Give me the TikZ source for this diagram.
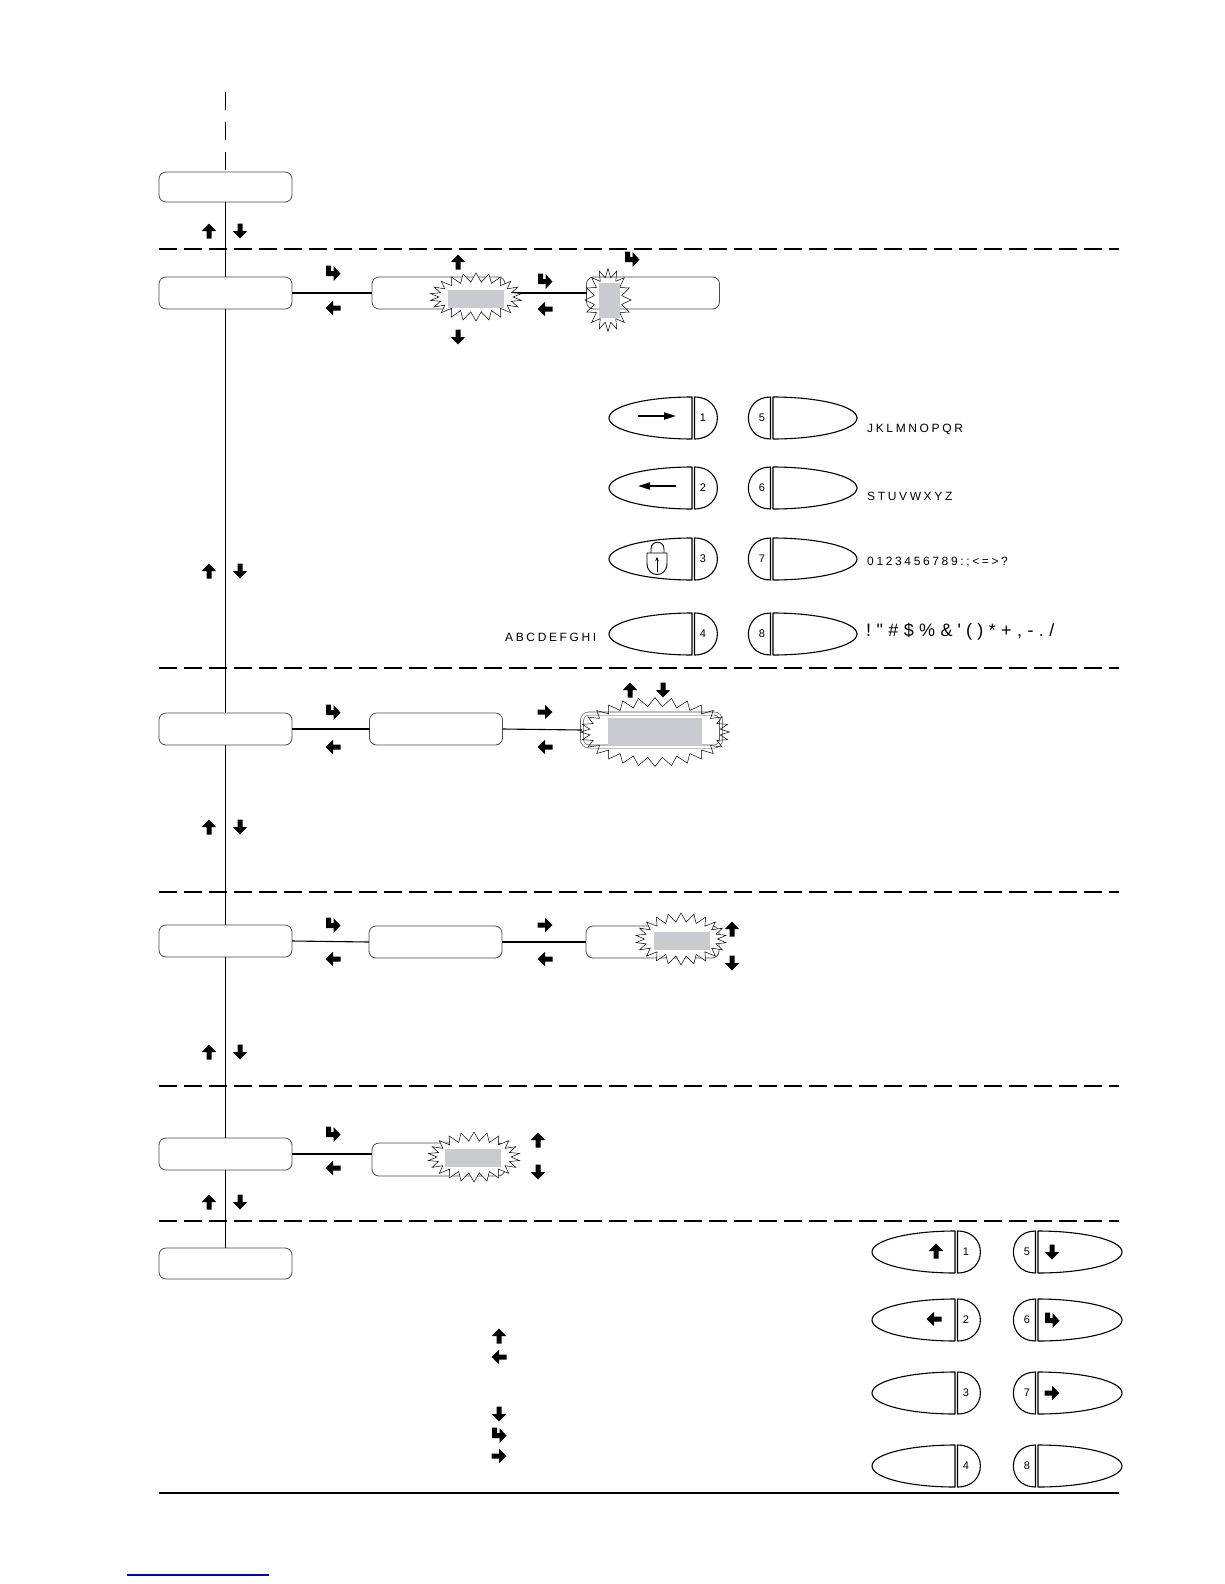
\documentclass[tikz,border=0pt]{standalone}
\usepackage{fontspec}
\usetikzlibrary{shapes.symbols,arrows.meta}
\newfontfamily\labfont{Liberation Sans}[LetterSpace=22]
\newfontfamily\bigfont{Liberation Sans}[LetterSpace=30]
\newfontfamily\numfont{Liberation Sans}
\definecolor{panelgray}{RGB}{200,204,208}

\newcommand\lkey[4]{%
 \begin{scope}[shift={(#1,#2)}]
 \draw[keyline] (0,-21) .. controls (-45,-21) and (-83,-12) .. (-83,0) .. controls (-83,12) and (-45,21) .. (0,21) -- cycle;
 \draw[keyline] (2.5,-21) .. controls (33,-21) and (33,21) .. (2.5,21) -- cycle;
 \node[keynum] (#4) at (11,0) {#3};
 \end{scope}}
\newcommand\rkey[4]{%
 \begin{scope}[shift={(#1,#2)}]
 \draw[keyline] (0,-21) .. controls (45,-21) and (84,-12) .. (84,0) .. controls (84,12) and (45,21) .. (0,21) -- cycle;
 \draw[keyline] (-2.5,-21) .. controls (-32,-21) and (-32,21) .. (-2.5,21) -- cycle;
 \node[keynum] (#4) at (-11,0) {#3};
 \end{scope}}

\begin{document}
\begin{tikzpicture}[x=1pt,y=-1pt,
 box/.style={draw=black!70, line width=0.8, rounded corners=7, minimum width=133, minimum height=32, inner sep=0, outer sep=0},
 conn/.style={line width=1.1},
 sep/.style={line width=1.3, dash pattern=on 18 off 7},
 burst/.style={starburst, random starburst=0, draw, line width=0.5, inner sep=0pt, starburst point height=9pt},
 grayr/.style={fill=panelgray, inner sep=0, minimum width=56, minimum height=18},
 keyline/.style={line width=1.1, line join=round},
 keynum/.style={font=\numfont\fontsize{11}{13}\selectfont, inner sep=0},
 lab/.style={font=\labfont\fontsize{12}{14}\selectfont, inner sep=0},
 labbig/.style={font=\bigfont\fontsize{18}{20}\selectfont, inner sep=0},
 arrU/.pic={\fill (0,-7.5) -- (7.2,0) -- (2.5,0) -- (2.5,7.5) -- (-2.5,7.5) -- (-2.5,0) -- (-7.2,0) -- cycle;},
 arrD/.pic={\fill (0,7.5) -- (7.2,0) -- (2.5,0) -- (2.5,-7.5) -- (-2.5,-7.5) -- (-2.5,0) -- (-7.2,0) -- cycle;},
 arrL/.pic={\fill (-7.5,0) -- (0,-7.2) -- (0,-2.5) -- (7.5,-2.5) -- (7.5,2.5) -- (0,2.5) -- (0,7.2) -- cycle;},
 arrR/.pic={\fill (7.5,0) -- (0,-7.2) -- (0,-2.5) -- (-7.5,-2.5) -- (-7.5,2.5) -- (0,2.5) -- (0,7.2) -- cycle;},
 arrE/.pic={\fill (-6.8,-7.5) -- (-2,-7.5) -- (-2,-1.8) -- (0.6,-1.8) -- (0.6,-6.8) -- (7.5,0.6) -- (0.6,8) -- (0.6,3) -- (-6.8,3) -- cycle;}
]
\fill[white] (0,0) rectangle (1224,1584);
\useasboundingbox (0,0) rectangle (1224,1584);

% separators
\draw[sep] (159,249) -- (1119,249);
\draw[sep] (159,668) -- (1119,668);
\draw[sep] (159,892) -- (1119,892);
\draw[sep] (159,1086) -- (1119,1086);
\draw[sep] (159,1221) -- (1119,1221);
\draw[line width=1.3] (159,1493) -- (1119,1493);
\draw[blue!75!black, line width=1.5] (127,1575) -- (269,1575);

% boxes
\node[box, minimum height=30] (box1) at (225.5,187) {};
\node[box] (box2) at (225.5,293) {};
\node[box] (box3) at (438.5,293) {};
\node[box] (box4) at (653,293) {};
\node[box] (box5) at (225.5,729) {};
\node[box] (box6) at (436,729) {};
\node[box, double, double distance=2.5, line width=0.6, minimum width=139, minimum height=33] (box7) at (651.5,730) {};
\node[box] (box8) at (225.5,941) {};
\node[box] (box9) at (435.5,942) {};
\node[box] (box10) at (652.5,942) {};
\node[box] (box11) at (225.5,1154) {};
\node[box, minimum height=33] (box12) at (438.5,1159.5) {};
\node[box, minimum height=31] (box13) at (225.5,1263.5) {};

% main flow line
\coordinate (topend) at (225.5,92);
\draw[conn, dash pattern=on 18 off 12] (topend) -- (box1.north);
\draw[conn] (box1.south) -- (box2.north);
\draw[conn] (box2.south) -- (box5.north);
\draw[conn] (box5.south) -- (box8.north);
\draw[conn] (box8.south) -- (box11.north);
\draw[conn] (box11.south) -- (box13.north);

% horizontal connectors
\draw[conn] (box2.east) -- (box3.west);
\draw[conn] (box3.east) -- (box4.west);
\draw[conn] (box5.east) -- (box6.west);
\draw[conn] (box6.east) -- (box7.west);
\draw[conn] (box8.east) -- (box9.west);
\draw[conn] (box9.east) -- (box10.west);
\draw[conn] (box11.east) -- (box11.east -| box12.west);

% bursts
\node[burst, fill=white, starburst points=22, minimum width=92pt, minimum height=48pt] (bA) at (476,297) {};
\node[grayr] (gA) at (476,299) {};
\node[burst, starburst points=16, minimum width=46pt, minimum height=63pt] (bB) at (608,300) {};
\node[grayr, minimum width=21, minimum height=35] (gB) at (609.5,300.5) {};
\node[burst, starburst points=28, minimum width=149pt, minimum height=69pt] (bC) at (655,732) {};
\node[grayr, minimum width=94, minimum height=28] (gC) at (655,732) {};
\node[burst, fill=white, starburst points=22, minimum width=91pt, minimum height=52pt] (bD) at (681,939) {};
\node[grayr] (gD) at (682,941) {};
\node[burst, fill=white, starburst points=22, minimum width=92pt, minimum height=50pt] (bE) at (474,1157) {};
\node[grayr] (gE) at (473,1158) {};

% arrows section 1
\pic at (209,231) {arrU}; \pic at (240,231) {arrD};
% section 2
\pic at (333,273) {arrE}; \pic at (333,308) {arrL};
\pic at (458,262) {arrU}; \pic at (458,337) {arrD};
\pic at (545,281) {arrE}; \pic at (545,309) {arrL};
\pic at (632,259) {arrE};
\pic at (209,571) {arrU}; \pic at (240,571) {arrD};
% section 3
\pic at (333,712) {arrE}; \pic at (333,747) {arrL};
\pic at (545,712) {arrR}; \pic at (545,747) {arrL};
\pic at (630,690) {arrU}; \pic at (663,690) {arrD};
\pic at (209,827) {arrU}; \pic at (240,827) {arrD};
% section 4
\pic at (333,925) {arrE}; \pic at (333,959) {arrL};
\pic at (545,925) {arrR}; \pic at (545,959) {arrL};
\pic at (732,929) {arrU}; \pic at (732,963) {arrD};
\pic at (209,1052) {arrU}; \pic at (240,1052) {arrD};
% section 5
\pic at (333,1134) {arrE}; \pic at (333,1168) {arrL};
\pic at (538,1140) {arrU}; \pic at (538,1172) {arrD};
\pic at (209,1202) {arrU}; \pic at (240,1202) {arrD};
% section 6 legend
\pic at (499,1336) {arrU};
\pic at (499,1357) {arrL};
\pic at (499,1414) {arrD};
\pic at (499,1435) {arrE};
\pic at (499,1456) {arrR};

% keypad section 2
\lkey{692}{418}{1}{ka1}
\lkey{692}{488}{2}{ka2}
\lkey{692}{559}{3}{ka3}
\lkey{692}{634}{4}{ka4}
\rkey{773}{418}{5}{ka5}
\rkey{773}{488}{6}{ka6}
\rkey{773}{559}{7}{ka7}
\rkey{773}{634}{8}{ka8}
\draw[line width=2, -{Triangle[length=12,width=7]}] (638,416) -- (676,416);
\draw[line width=2, -{Triangle[length=12,width=7]}] (676,486) -- (638,486);
% lock
\draw[line width=0.9] (651,553) -- (651,549) .. controls (651,540) and (664,540) .. (664,549) -- (664,553);
\draw[line width=0.9] (647,553) -- (667,553) -- (667,563) .. controls (667,571) and (662,574.5) .. (657,574.5) .. controls (652,574.5) and (647,571) .. (647,563) -- cycle;
\draw[line width=0.8, -{Stealth[length=4,width=3.5]}] (657,572) -- (657,557);

\node[lab, anchor=west] (tJ) at (867,429) {JKLMNOPQR};
\node[lab, anchor=west] (tS) at (867,496) {STUVWXYZ};
\node[lab, anchor=west] (t0) at (867,562) {0123456789:;<=>?};
\node[labbig, anchor=west] (tX) at (866,632) {!"\#\$\%\&\kern5pt\textquotesingle\kern5pt()*+,-./};
\node[lab, anchor=west] (tA) at (505,637) {ABCDEFGHI};

% keypad section 6
\lkey{955}{1252}{1}{kb1}
\lkey{955}{1320}{2}{kb2}
\lkey{955}{1393}{3}{kb3}
\lkey{955}{1466}{4}{kb4}
\rkey{1038}{1252}{5}{kb5}
\rkey{1038}{1320}{6}{kb6}
\rkey{1038}{1393}{7}{kb7}
\rkey{1038}{1466}{8}{kb8}
\pic at (936,1251) {arrU};
\pic at (934,1319) {arrL};
\pic at (1052,1252) {arrD};
\pic at (1052,1320) {arrE};
\pic at (1052,1393) {arrR};
\end{tikzpicture}
\end{document}
